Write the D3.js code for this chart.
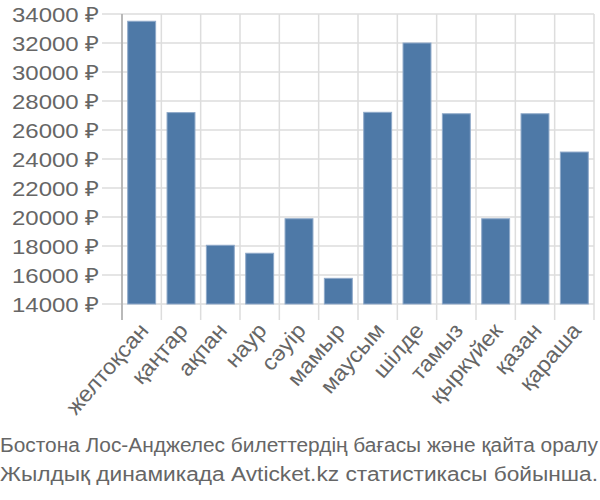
<!DOCTYPE html>
<html><head><meta charset="utf-8">
<script src="https://cdn.jsdelivr.net/npm/d3@7"></script>
<style>body{margin:0;background:#fff}svg{display:block}</style>
</head><body>
<svg id="c" width="600" height="500"></svg>
<script>
const months = ["желтоқсан","қаңтар","ақпан","наур","сәуір","мамыр","маусым","шілде","тамыз","қыркүйек","қазан","қараша"];
const prices = [33500,27200,18050,17500,19880,15770,27220,32000,27120,19880,27120,24480];
const yTicks = [14000,16000,18000,20000,22000,24000,26000,28000,30000,32000,34000];
const captionLines = ["Бостона Лос-Анджелес билеттердің бағасы және қайта оралу","Жылдық динамикада Avticket.kz статистикасы бойынша."];

const svg = d3.select("#c");
const font = "'Liberation Sans', Arial, sans-serif";
const L = 122, R = 594, T = 14, B = 304;
const x = d3.scaleBand().domain(months).range([L, R]).paddingInner(0.29).paddingOuter(0.145);
const xb = d3.scaleLinear().domain([0, months.length]).range([L, R]);
const y = d3.scaleLinear().domain([14000, 34000]).range([B, T]);

svg.append("g").selectAll("line").data(yTicks).join("line")
  .attr("x1", L - 20).attr("x2", R).attr("y1", d => y(d)).attr("y2", d => y(d))
  .attr("stroke", "#ddd").attr("stroke-width", 1.5);
svg.append("g").selectAll("line").data(d3.range(months.length + 1)).join("line")
  .attr("x1", d => xb(d)).attr("x2", d => xb(d)).attr("y1", T).attr("y2", B + 16)
  .attr("stroke", "#ddd").attr("stroke-width", 1.5);
svg.append("line").attr("x1", L).attr("x2", L).attr("y1", T).attr("y2", B + 16)
  .attr("stroke", "#aaa").attr("stroke-width", 1.5);

svg.append("g").selectAll("rect").data(prices).join("rect")
  .attr("x", (d, i) => x(months[i])).attr("width", x.bandwidth())
  .attr("y", d => y(d)).attr("height", d => B - y(d))
  .attr("fill", "#4e79a7").attr("stroke", "#8fa9c9").attr("stroke-width", 1);

svg.append("g").selectAll("text").data(yTicks).join("text")
  .attr("x", 99).attr("y", d => y(d)).attr("dy", "0.36em")
  .attr("text-anchor", "end").attr("fill", "#666")
  .attr("textLength", 87).attr("lengthAdjust", "spacingAndGlyphs")
  .style("font-family", font).style("font-size", "21px")
  .text(d => d + " ₽");

svg.append("g").selectAll("text").data(months).join("text")
  .attr("transform", d => `translate(${x(d) + x.bandwidth() / 2 + 2},${B + 22}) rotate(-49) scale(1.06,1)`)
  .attr("text-anchor", "end").attr("dy", "0.36em").attr("fill", "#666")
  .style("font-family", font).style("font-size", "22px")
  .text(d => d);

svg.append("g").selectAll("text").data(captionLines).join("text")
  .attr("x", 0).attr("y", (d, i) => 452 + i * 29).attr("fill", "#666")
  .attr("textLength", 598).attr("lengthAdjust", "spacingAndGlyphs")
  .style("font-family", font).style("font-size", "20px")
  .text(d => d);
</script>
</body></html>
